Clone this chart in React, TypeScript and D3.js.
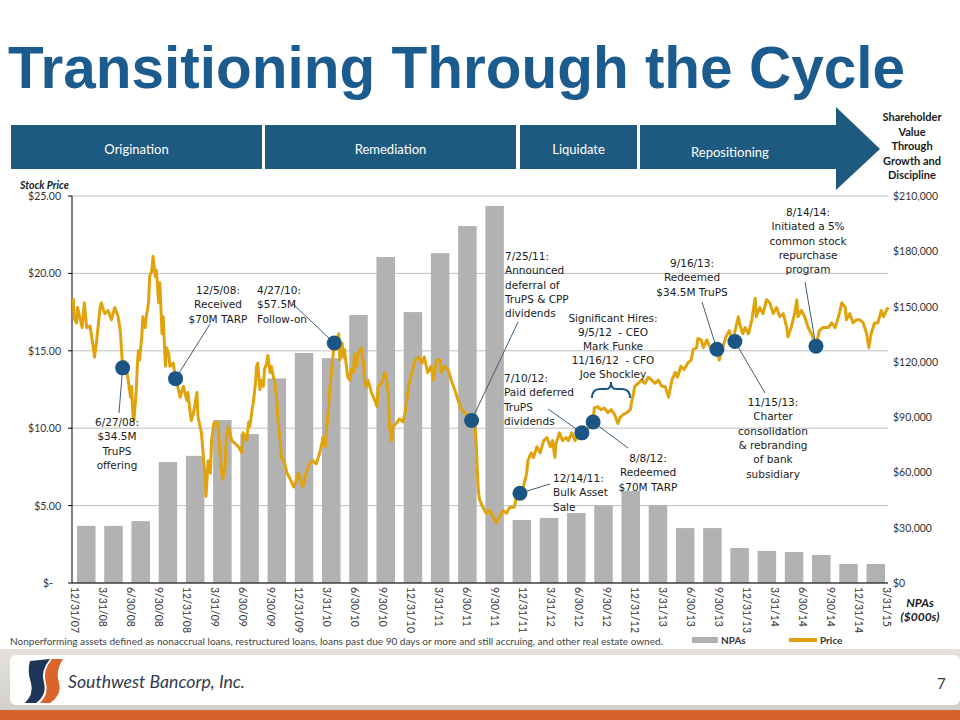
import React from 'react';
import * as d3 from 'd3';

// ---------------- DATA ----------------
const categories = [
  '12/31/07', '3/31/08', '6/30/08', '9/30/08', '12/31/08', '3/31/09', '6/30/09', '9/30/09',
  '12/31/09', '3/31/10', '6/30/10', '9/30/10', '12/31/10', '3/31/11', '6/30/11', '9/30/11',
  '12/31/11', '3/31/12', '6/30/12', '9/30/12', '12/31/12', '3/31/13', '6/30/13', '9/30/13',
  '12/31/13', '3/31/14', '6/30/14', '9/30/14', '12/31/14', '3/31/15',
];

const npaValues = [
  31000, 31000, 33600, 65600, 69000, 88400, 80800, 111000,
  124800, 122000, 145400, 176900, 147000, 179000, 193700, 204600,
  34200, 35300, 38000, 42100, 49900, 42300, 29800, 29800,
  19000, 17400, 16800, 15200, 10300, 10300,
];

// [decimal year, price]
const pricePoints: [number, number][] = [
  [2008.01, 18.4], [2008.02, 17.1], [2008.04, 16.8], [2008.05, 17.8], [2008.09, 16.5], [2008.11, 18.1],
  [2008.13, 16.5], [2008.16, 16.6], [2008.19, 15.2], [2008.2, 14.6], [2008.22, 15.7], [2008.25, 17.8],
  [2008.26, 18.1], [2008.29, 17.4], [2008.32, 17.6], [2008.35, 17.0], [2008.38, 17.8], [2008.41, 17.2],
  [2008.43, 16.2], [2008.45, 13.9], [2008.47, 14.3], [2008.49, 13.5], [2008.5, 13.1], [2008.52, 12.0],
  [2008.53, 12.7], [2008.54, 11.0], [2008.55, 10.5], [2008.57, 12.3], [2008.58, 14.0], [2008.59, 15.0],
  [2008.6, 14.4], [2008.62, 15.9], [2008.63, 17.2], [2008.65, 16.5], [2008.66, 17.2], [2008.68, 18.1],
  [2008.69, 19.8], [2008.71, 20.2], [2008.72, 21.1], [2008.74, 19.8], [2008.75, 20.2], [2008.77, 18.1],
  [2008.78, 19.4], [2008.8, 16.1], [2008.81, 17.2], [2008.83, 14.0], [2008.84, 15.2], [2008.86, 14.8],
  [2008.87, 14.0], [2008.9, 14.2], [2008.92, 13.2], [2008.94, 12.7], [2008.96, 12.0], [2008.99, 12.7],
  [2009.02, 11.8], [2009.03, 12.3], [2009.05, 11.0], [2009.06, 10.5], [2009.08, 11.0], [2009.11, 12.3],
  [2009.12, 10.7], [2009.15, 9.7], [2009.17, 7.9], [2009.18, 7.1], [2009.19, 5.6], [2009.21, 7.9],
  [2009.23, 7.1], [2009.24, 9.2], [2009.26, 10.3], [2009.29, 10.4], [2009.3, 10.1], [2009.31, 8.8],
  [2009.33, 7.1], [2009.34, 6.7], [2009.36, 7.5], [2009.37, 9.2], [2009.39, 10.1], [2009.42, 9.2],
  [2009.45, 9.0], [2009.48, 8.8], [2009.51, 8.4], [2009.52, 9.7], [2009.55, 9.2], [2009.57, 10.4],
  [2009.58, 10.1], [2009.6, 11.2], [2009.61, 11.6], [2009.63, 12.9], [2009.64, 14.0], [2009.65, 14.2],
  [2009.67, 12.5], [2009.68, 13.1], [2009.7, 12.7], [2009.71, 13.8], [2009.73, 14.2], [2009.74, 14.7],
  [2009.76, 13.6], [2009.77, 14.0], [2009.79, 13.3], [2009.8, 13.1], [2009.82, 11.8], [2009.83, 10.5],
  [2009.85, 9.2], [2009.86, 8.1], [2009.88, 7.9], [2009.89, 7.7], [2009.91, 7.1], [2009.94, 6.7],
  [2009.97, 6.2], [2010.0, 6.7], [2010.01, 7.1], [2010.04, 6.5], [2010.05, 6.2], [2010.08, 7.1],
  [2010.11, 7.7], [2010.14, 7.9], [2010.17, 7.7], [2010.2, 8.4], [2010.22, 9.0], [2010.23, 9.4],
  [2010.25, 8.8], [2010.26, 9.7], [2010.28, 11.4], [2010.29, 12.5], [2010.31, 14.0], [2010.33, 15.5],
  [2010.35, 15.7], [2010.37, 16.1], [2010.38, 14.4], [2010.4, 15.5], [2010.41, 14.6], [2010.42, 15.1],
  [2010.45, 13.3], [2010.47, 13.1], [2010.48, 13.8], [2010.5, 13.6], [2010.51, 14.8], [2010.53, 14.0],
  [2010.54, 14.8], [2010.57, 15.2], [2010.59, 14.2], [2010.6, 12.9], [2010.62, 12.7], [2010.63, 13.1],
  [2010.66, 12.3], [2010.69, 11.8], [2010.71, 11.4], [2010.72, 12.7], [2010.75, 12.9], [2010.78, 13.6],
  [2010.79, 13.3], [2010.81, 12.3], [2010.82, 10.1], [2010.84, 9.2], [2010.85, 10.1], [2010.88, 10.3],
  [2010.91, 10.6], [2010.94, 10.4], [2010.96, 11.0], [2010.99, 12.7], [2011.02, 13.6], [2011.05, 14.4],
  [2011.08, 14.6], [2011.11, 14.2], [2011.13, 14.6], [2011.16, 13.6], [2011.19, 14.0], [2011.21, 13.1],
  [2011.24, 14.4], [2011.27, 14.4], [2011.28, 13.6], [2011.31, 14.0], [2011.34, 13.8], [2011.37, 13.1],
  [2011.4, 12.5], [2011.43, 11.8], [2011.46, 11.2], [2011.49, 11.0], [2011.52, 10.7], [2011.55, 10.5],
  [2011.58, 10.1], [2011.59, 9.2], [2011.6, 7.5], [2011.61, 6.0], [2011.62, 5.4], [2011.65, 4.9],
  [2011.68, 4.5], [2011.71, 4.7], [2011.74, 4.3], [2011.77, 3.9], [2011.8, 4.3], [2011.83, 4.7],
  [2011.86, 4.5], [2011.89, 4.9], [2011.93, 4.9], [2011.95, 5.6], [2011.98, 5.8], [2012.01, 6.2],
  [2012.04, 7.1], [2012.05, 7.9], [2012.08, 8.4], [2012.1, 8.1], [2012.13, 8.8], [2012.16, 8.4],
  [2012.19, 9.2], [2012.22, 9.4], [2012.25, 8.8], [2012.27, 9.2], [2012.29, 8.1], [2012.3, 9.0],
  [2012.33, 9.7], [2012.36, 9.2], [2012.39, 9.4], [2012.41, 9.2], [2012.44, 9.7], [2012.47, 9.2],
  [2012.5, 9.7], [2012.53, 9.7], [2012.57, 9.9], [2012.6, 10.1], [2012.63, 10.4], [2012.64, 11.3],
  [2012.67, 11.4], [2012.7, 11.2], [2012.73, 11.3], [2012.76, 11.0], [2012.79, 11.2], [2012.82, 10.9],
  [2012.85, 10.3], [2012.87, 10.7], [2012.9, 10.9], [2012.93, 11.0], [2012.96, 11.2], [2012.97, 11.6],
  [2012.99, 12.3], [2013.0, 12.7], [2013.03, 12.9], [2013.06, 13.1], [2013.09, 12.9], [2013.12, 13.3],
  [2013.15, 13.1], [2013.18, 12.9], [2013.21, 13.1], [2013.24, 12.7], [2013.27, 12.7], [2013.3, 12.0],
  [2013.33, 13.1], [2013.36, 13.6], [2013.38, 13.3], [2013.41, 14.0], [2013.44, 13.8], [2013.47, 14.2],
  [2013.5, 14.4], [2013.52, 15.1], [2013.55, 15.2], [2013.56, 15.8], [2013.59, 15.7], [2013.61, 15.2],
  [2013.64, 15.7], [2013.67, 15.2], [2013.7, 15.1], [2013.73, 15.1], [2013.75, 14.4], [2013.78, 15.2],
  [2013.81, 15.9], [2013.84, 16.3], [2013.87, 15.6], [2013.92, 17.2], [2013.93, 16.8], [2013.96, 16.1],
  [2013.98, 16.5], [2014.01, 16.1], [2014.04, 17.0], [2014.07, 18.4], [2014.08, 17.2], [2014.11, 17.8],
  [2014.14, 17.4], [2014.17, 18.3], [2014.2, 18.1], [2014.23, 17.4], [2014.26, 17.8], [2014.29, 17.2],
  [2014.32, 17.4], [2014.35, 16.5], [2014.36, 15.9], [2014.39, 16.5], [2014.42, 17.4], [2014.44, 18.3],
  [2014.45, 17.2], [2014.48, 17.6], [2014.51, 17.2], [2014.54, 16.5], [2014.57, 16.1], [2014.59, 15.7],
  [2014.61, 15.3], [2014.64, 16.3], [2014.67, 16.5], [2014.72, 16.5], [2014.75, 16.8], [2014.78, 16.5],
  [2014.81, 17.2], [2014.84, 18.1], [2014.87, 17.8], [2014.88, 17.0], [2014.91, 17.4], [2014.94, 16.8],
  [2014.97, 17.0], [2015.0, 17.0], [2015.03, 16.8], [2015.06, 16.1], [2015.08, 15.2], [2015.1, 16.1],
  [2015.13, 16.8], [2015.16, 16.8], [2015.19, 17.6], [2015.21, 17.2], [2015.25, 17.8],
];

const eventYears = [2008.45, 2008.92, 2010.33, 2011.55, 2011.98, 2012.53, 2012.63, 2013.73, 2013.89, 2014.61];
const eventPrices = [13.9, 13.2, 15.5, 10.5, 5.8, 9.7, 10.4, 15.1, 15.6, 15.3];
const eventTexts = [
  ['6/27/08:', '$34.5M', 'TruPS', 'offering'],
  ['12/5/08:', 'Received', '$70M TARP'],
  ['4/27/10:', '$57.5M', 'Follow-on'],
  ['7/25/11:', 'Announced', 'deferral of', 'TruPS & CPP', 'dividends'],
  ['12/14/11:', 'Bulk Asset', 'Sale'],
  ['7/10/12:', 'Paid deferred', 'TruPS', 'dividends'],
  ['8/8/12:', 'Redeemed', '$70M TARP'],
  ['9/16/13:', 'Redeemed', '$34.5M TruPS'],
  ['11/15/13:', 'Charter', 'consolidation', '& rebranding', 'of bank', 'subsidiary'],
  ['8/14/14:', 'Initiated a 5%', 'common stock', 'repurchase', 'program'],
];
const hiresText = ['Significant Hires:', '9/5/12  - CEO', 'Mark Funke', '11/16/12  - CFO', 'Joe Shockley'];

const priceTicks = [0, 5, 10, 15, 20, 25];
const priceTickLabels = ['$-', '$5.00', '$10.00', '$15.00', '$20.00', '$25.00'];
const npaTicks = [0, 30000, 60000, 90000, 120000, 150000, 180000, 210000];
const npaTickLabels = ['$0', '$30,000', '$60,000', '$90,000', '$120,000', '$150,000', '$180,000', '$210,000'];

const phases = ['Origination', 'Remediation', 'Liquidate', 'Repositioning'];
const goalText = ['Shareholder', 'Value', 'Through', 'Growth and', 'Discipline'];

// ---------------- LAYOUT ----------------
const W = 960;
const H = 720;
const plot = { left: 72, right: 888, top: 196, bottom: 583 };
const BLUE = '#1E5A80';
const GOLD = '#E0A30B';
const BAR = '#B2B2B2';
const DOT = '#1B5583';
const LEADER = '#3E5C76';
const SANS = 'Lato, "Open Sans", sans-serif';
const ANN = '"DejaVu Sans", Verdana, sans-serif';

const annLayout = [
  { x: 117, y: 422, anchor: 'middle', lx: 119, ly: 413 },
  { x: 218, y: 290, anchor: 'middle', lx: 210, ly: 324 },
  { x: 257, y: 290, anchor: 'start', lx: 293, ly: 304 },
  { x: 505, y: 256, anchor: 'start', lx: 518, ly: 322 },
  { x: 553, y: 478, anchor: 'start', lx: 550, ly: 484 },
  { x: 504, y: 378, anchor: 'start', lx: 548, ly: 409 },
  { x: 648, y: 458, anchor: 'middle', lx: 628, ly: 448 },
  { x: 692, y: 263, anchor: 'middle', lx: 702, ly: 302 },
  { x: 773, y: 402, anchor: 'middle', lx: 765, ly: 393 },
  { x: 808, y: 212, anchor: 'middle', lx: 805, ly: 282 },
];
const phaseBoxes = [
  { x0: 11, x1: 262 },
  { x0: 265, x1: 516 },
  { x0: 520, x1: 637 },
  { x0: 640, x1: 836 },
];

export default function App() {
  const xYear = d3.scaleLinear().domain([2008.0, 2015.25]).range([plot.left, plot.right]);
  const yPrice = d3.scaleLinear().domain([0, 25]).range([plot.bottom, plot.top]);
  const yNpa = d3.scaleLinear().domain([0, 210000]).range([plot.bottom, plot.top]);
  const xBand = d3.scaleBand<string>().domain(categories).range([77, 885]).paddingInner(0.32).paddingOuter(0);
  const xLabel = d3.scalePoint<string>().domain(categories).range([75, 887]);

  const line = d3
    .line<[number, number]>()
    .x((d) => xYear(d[0]))
    .y((d) => yPrice(d[1]));

  const lh = 14.3;

  return (
    <svg
      width={W}
      height={H}
      viewBox={`0 0 ${W} ${H}`}
      style={{ position: 'absolute', left: 0, top: 0, background: '#fff' }}
    >
      <defs>
        <linearGradient id="footerGrad" x1="0" x2="0" y1="0" y2="1">
          <stop offset="0" stopColor="#e4e1de" />
          <stop offset="1" stopColor="#cfcbc7" />
        </linearGradient>
      </defs>
      <rect x={0} y={0} width={W} height={H} fill="#fff" />

      {/* Title */}
      <text
        x={8}
        y={88}
        fontFamily='"Liberation Sans", Arial, sans-serif'
        fontWeight="bold"
        fontSize={59}
        fill="#1C5B8E"
        textLength={897}
        lengthAdjust="spacingAndGlyphs"
      >
        Transitioning Through the Cycle
      </text>

      {/* Phase banner */}
      {phaseBoxes.map((b, i) => (
        <rect key={'pb' + i} x={b.x0} y={125} width={b.x1 - b.x0} height={44} fill={BLUE} />
      ))}
      <path d="M836,107 L880,149 L836,190 Z" fill={BLUE} />
      {phases.map((p, i) => (
        <text
          key={'pt' + i}
          x={(phaseBoxes[i].x0 + phaseBoxes[i].x1) / 2 + (i === 3 ? -8 : 0)}
          y={i === 3 ? 157 : 154}
          textAnchor="middle"
          fontFamily={SANS}
          fontSize={13}
          fill="#fff"
        >
          {p}
        </text>
      ))}
      {goalText.map((t, i) => (
        <text
          key={'g' + i}
          x={912}
          y={121 + i * 14.6}
          textAnchor="middle"
          fontFamily={SANS}
          fontWeight="bold"
          fontSize={11}
          fill="#1a1a1a"
        >
          {t}
        </text>
      ))}

      {/* Axis titles */}
      <text x={20} y={189} fontFamily={SANS} fontStyle="italic" fontWeight="bold" fontSize={10.5} fill="#1a1a1a">
        Stock Price
      </text>
      <text x={920} y={607} textAnchor="middle" fontFamily={SANS} fontStyle="italic" fontWeight="bold" fontSize={12} fill="#1a1a1a">
        NPAs
      </text>
      <text x={920} y={621} textAnchor="middle" fontFamily={SANS} fontStyle="italic" fontWeight="bold" fontSize={12} fill="#1a1a1a">
        ($000s)
      </text>

      {/* Gridlines */}
      {priceTicks.map((t) => (
        <line key={'gl' + t} x1={plot.left} x2={plot.right} y1={yPrice(t)} y2={yPrice(t)} stroke="#BFBFBF" strokeWidth={1} />
      ))}

      {/* Bars */}
      {categories.map((c, i) => (
        <rect
          key={'bar' + c}
          x={xBand(c)}
          y={yNpa(npaValues[i])}
          width={xBand.bandwidth()}
          height={yNpa(0) - yNpa(npaValues[i])}
          fill={BAR}
        />
      ))}

      {/* Axes */}
      <line x1={plot.left} x2={plot.left} y1={plot.top} y2={plot.bottom} stroke="#000" strokeWidth={1} />
      <line x1={plot.left} x2={plot.right} y1={plot.bottom} y2={plot.bottom} stroke="#000" strokeWidth={1} />
      {priceTicks.map((t, i) => (
        <g key={'lt' + t}>
          <line x1={plot.left - 4} x2={plot.left} y1={yPrice(t)} y2={yPrice(t)} stroke="#000" />
          <text
            x={t === 0 ? 53 : 61}
            y={yPrice(t) + 4}
            textAnchor="end"
            fontFamily={SANS}
            fontSize={10.5}
            fill="#333"
          >
            {priceTickLabels[i]}
          </text>
        </g>
      ))}
      {npaTicks.map((t, i) => (
        <text key={'rt' + t} x={893} y={yNpa(t) + 4} fontFamily={SANS} fontSize={10.5} fill="#333">
          {npaTickLabels[i]}
        </text>
      ))}
      {categories.map((c) => (
        <text
          key={'xl' + c}
          transform={`translate(${xLabel(c)},${587}) rotate(90)`}
          dominantBaseline="central"
          fontFamily={SANS}
          fontSize={10.5}
          fill="#333"
        >
          {c}
        </text>
      ))}

      {/* Price line */}
      <path d={line(pricePoints) || ''} fill="none" stroke={GOLD} strokeWidth={3} strokeLinejoin="round" />

      {/* Leaders */}
      {eventYears.map((yr, i) => (
        <line
          key={'ld' + i}
          x1={xYear(yr)}
          y1={yPrice(eventPrices[i])}
          x2={annLayout[i].lx}
          y2={annLayout[i].ly}
          stroke={LEADER}
          strokeWidth={1}
        />
      ))}

      {/* Dots */}
      {eventYears.map((yr, i) => (
        <circle key={'dot' + i} cx={xYear(yr)} cy={yPrice(eventPrices[i])} r={7.5} fill={DOT} />
      ))}

      {/* Annotation texts */}
      {eventTexts.map((lines, i) => (
        <text
          key={'ann' + i}
          fontFamily={ANN}
          fontSize={10.5}
          fill="#1a1a1a"
          textAnchor={annLayout[i].anchor as any}
        >
          {lines.map((l, j) => (
            <tspan key={j} x={annLayout[i].x} y={annLayout[i].y + 4 + j * lh}>
              {l}
            </tspan>
          ))}
        </text>
      ))}
      <text fontFamily={ANN} fontSize={10.5} fill="#1a1a1a" textAnchor="middle" style={{ whiteSpace: 'pre' }}>
        {hiresText.map((l, j) => (
          <tspan key={j} x={613} y={322 + j * 14}>
            {l}
          </tspan>
        ))}
      </text>
      <path
        d="M592,398 Q592,389 600,389 L606,389 Q611,389 611,382 Q611,389 616,389 L622,389 Q630,389 630,398"
        fill="none"
        stroke={DOT}
        strokeWidth={2}
      />

      {/* Footnote & legend */}
      <text x={10} y={645} fontFamily={SANS} fontSize={9} fill="#444" textLength={653} lengthAdjust="spacingAndGlyphs">
        Nonperforming assets defined as nonaccrual loans, restructured loans, loans past due 90 days or more and still accruing, and other real estate owned.
      </text>
      <rect x={692} y={637} width={26} height={6} fill={BAR} />
      <text x={721} y={644} fontFamily={SANS} fontWeight="bold" fontSize={10} fill="#333">
        NPAs
      </text>
      <line x1={789} x2={817} y1={640} y2={640} stroke={GOLD} strokeWidth={4} />
      <text x={820} y={644} fontFamily={SANS} fontWeight="bold" fontSize={10} fill="#333">
        Price
      </text>

      {/* Footer */}
      <rect x={0} y={649} width={W} height={71} fill="url(#footerGrad)" />
      <rect x={10} y={655} width={W - 10} height={50} rx={6} fill="#fff" />
      <rect x={0} y={710} width={W} height={10} fill="#D4622A" />
      <path d="M30,661 L50,659 Q40,671 44,683 Q47,695 36,703 L25,703 Q34,694 31,683 Q27,671 30,661 Z" fill="#1E3558" />
      <path d="M52,659 L63,659 Q55,671 59,683 Q62,695 50,703 L40,703 Q49,694 46,683 Q42,671 52,659 Z" fill="#D9652B" />
      <text
        x={68}
        y={688}
        fontFamily={SANS}
        fontStyle="italic"
        fontSize={17}
        fill="#2F3B4C"
        textLength={177}
        lengthAdjust="spacingAndGlyphs"
      >
        Southwest Bancorp, Inc.
      </text>
      <text x={937} y={689} fontFamily={SANS} fontSize={15} fill="#333">
        7
      </text>
    </svg>
  );
}
